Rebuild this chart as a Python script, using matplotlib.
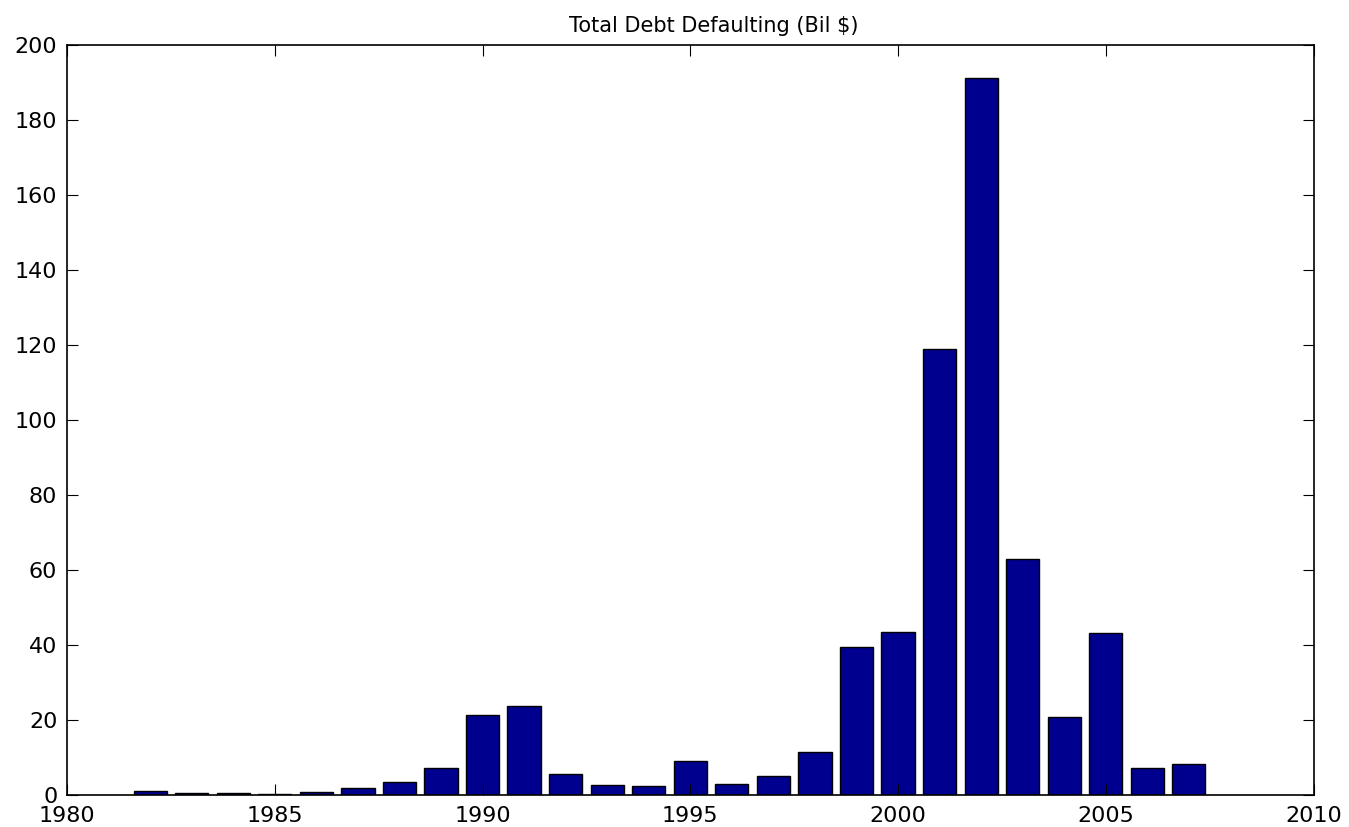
import matplotlib
matplotlib.use("Agg")
import matplotlib.pyplot as plt

years = list(range(1982, 2008))
debt = [1.0, 0.5, 0.5, 0.3, 0.7, 1.8, 3.4, 7.3, 21.3, 23.8, 5.5, 2.6, 2.4,
        9.1, 2.8, 5.1, 11.4, 39.4, 43.4, 118.9, 191.2, 62.8, 20.7, 43.1,
        7.2, 8.2]

plt.rcParams['font.family'] = ['DejaVu Sans']

fig = plt.figure(figsize=(13.49, 8.27), dpi=100)
ax = fig.add_axes([0.0497, 0.0387, 0.9240, 0.9069])

ax.bar(years, debt, width=0.8, color='#00008f', edgecolor='black', linewidth=1)

ax.set_xlim(1980, 2010)
ax.set_ylim(0, 200)
ax.set_xticks(range(1980, 2011, 5))
ax.set_yticks(range(0, 201, 20))
ax.tick_params(direction='in', length=8, width=0.8, top=True, right=True,
               labelsize=16)
ax.tick_params(axis='y', pad=7)
ax.tick_params(axis='x', pad=8)
for s in ax.spines.values():
    s.set_linewidth(1.2)

ax.text(0.519, 1.012, 'Total Debt Defaulting (Bil $)', transform=ax.transAxes,
        ha='center', va='bottom', fontsize=15)

fig.savefig('out.png', dpi=100)
